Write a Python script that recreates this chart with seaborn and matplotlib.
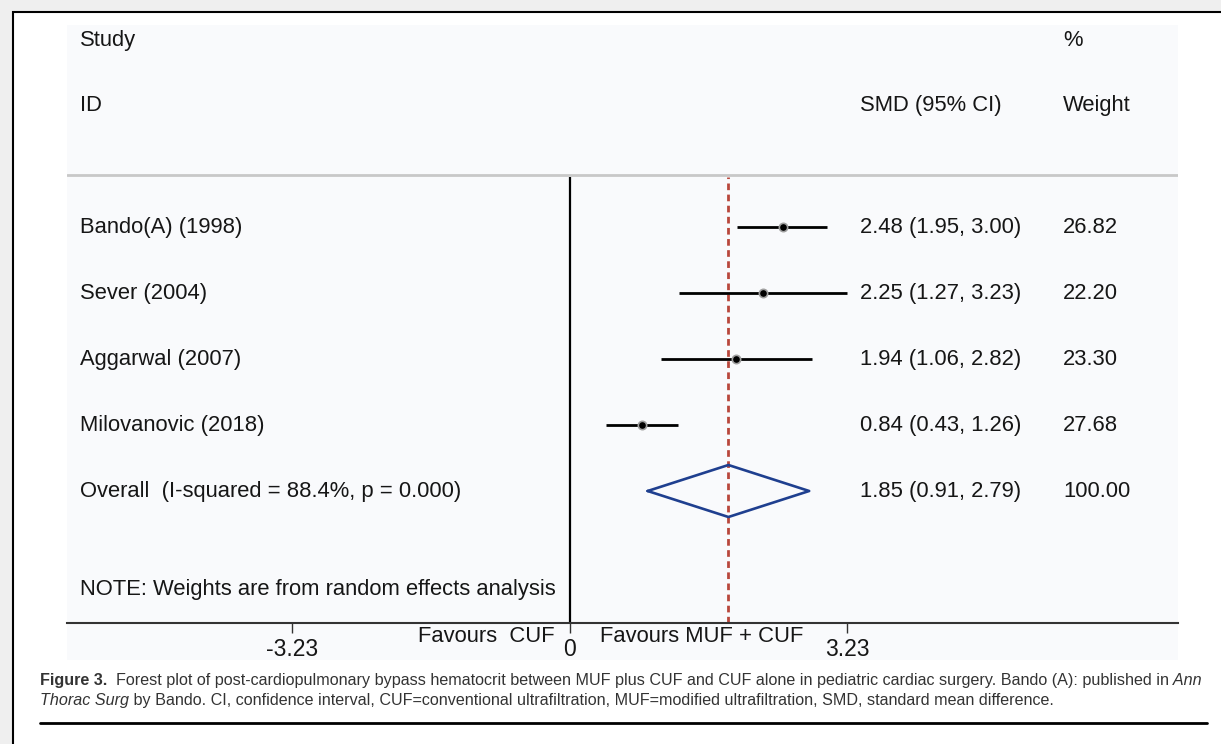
import numpy as np
import pandas as pd
import matplotlib
matplotlib.use("Agg")
import matplotlib.pyplot as plt
import matplotlib.transforms as mtransforms
from matplotlib.patches import Rectangle
import seaborn as sns

# ---- data -------------------------------------------------------------
studies = ["Bando(A) (1998)", "Sever (2004)", "Aggarwal (2007)", "Milovanovic (2018)"]
smd = [2.48, 2.25, 1.94, 0.84]
ci_low = [1.95, 1.27, 1.06, 0.43]
ci_high = [3.00, 3.23, 2.82, 1.26]
weights = [26.82, 22.20, 23.30, 27.68]

overall_smd = 1.85
overall_low = 0.91
overall_high = 2.79
overall_weight = 100.00
i_squared = 88.4
p_value = 0.000

xticks = [-3.23, 0, 3.23]

# ---- layout (pixels of the 1221x744 canvas) ---------------------------
W, H = 1221, 744
ZERO_PX, PX_PER_UNIT = 569.5, 85.9   # x scale of the forest panel
ROW_PX = 66.0                        # row spacing
AX_L, AX_R, AX_T, AX_B = 67, 1178, 25, 623

sns.set_theme(style="white")
plt.rcParams["font.family"] = ["Liberation Sans", "DejaVu Sans"]
TXT = "#161616"
CAP_FAMILY = ["Liberation Sans Narrow", "Liberation Sans", "DejaVu Sans"]

fig = plt.figure(figsize=(W / 100, H / 100), dpi=100)
fig.patch.set_facecolor("#efefef")

# page frame and pale plot panel
fig.patches.append(Rectangle((13 / W, -0.1), 1.0, 1.1 - 12 / H, transform=fig.transFigure,
                             facecolor="white", edgecolor="black", lw=1.5, zorder=-3))
fig.patches.append(Rectangle((AX_L / W, 1 - 660 / H), (AX_R - AX_L) / W, (660 - AX_T) / H,
                             transform=fig.transFigure, facecolor="#f9fafc",
                             edgecolor="none", zorder=-2))

ax = fig.add_axes([AX_L / W, 1 - AX_B / H, (AX_R - AX_L) / W, (AX_B - AX_T) / H])
ax.set_facecolor("none")
ax.set_xlim((AX_L - ZERO_PX) / PX_PER_UNIT, (AX_R - ZERO_PX) / PX_PER_UNIT)
ax.set_ylim(0, (AX_B - AX_T) / ROW_PX)

n = len(studies)
df = pd.DataFrame({
    "study": studies, "smd": smd, "low": ci_low, "high": ci_high, "weight": weights,
    "row": np.arange(n + 2, 2, -1),
})
overall_row = 2
header_line = (AX_B - 175) / ROW_PX
line_top = (AX_B - 177) / ROW_PX

# reference lines
ax.axhline(header_line, color="#c8c8c8", lw=2)
ax.vlines(0, 0, line_top, color="black", lw=1.6)
ax.vlines(overall_smd, 0, line_top, color="#b8473c", lw=2, linestyles=(0, (2.4, 1.6)))

# study CIs and point estimates
ax.hlines(df["row"], df["low"], df["high"], color="black", lw=2, zorder=2)
sns.scatterplot(data=df, x="smd", y="row", marker="o", s=36, color="black",
                edgecolor="#a0a0a0", linewidth=1.2, ax=ax, zorder=3, legend=False)

# pooled diamond
dh = 26 / ROW_PX
ax.plot([overall_low, overall_smd, overall_high, overall_smd, overall_low],
        [overall_row, overall_row + dh, overall_row, overall_row - dh, overall_row],
        color="#1f3f8f", lw=1.9, zorder=3)

# axes styling
for side in ["left", "top", "right"]:
    ax.spines[side].set_visible(False)
ax.spines["bottom"].set_color("#333333")
ax.spines["bottom"].set_linewidth(1.5)
ax.set_yticks([])
ax.set_xticks(xticks, labels=["0" if t == 0 else f"{t:.2f}" for t in xticks])
ax.tick_params(axis="x", bottom=True, direction="out", length=7.5, width=1,
               color="#333333", pad=3, labelsize=16.5, labelcolor=TXT)
ax.set_xlabel("")
ax.set_ylabel("")

# table text
tr = mtransforms.blended_transform_factory(fig.transFigure, ax.transData)
col_study, col_smd, col_w = 80 / W, 860 / W, 1063 / W
fs = 15.8
ax.text(col_study, (AX_B - 40) / ROW_PX, "Study", transform=tr, va="center", fontsize=fs, color=TXT)
ax.text(col_study, (AX_B - 105) / ROW_PX, "ID", transform=tr, va="center", fontsize=fs, color=TXT)
ax.text(col_smd, (AX_B - 105) / ROW_PX, "SMD (95% CI)", transform=tr, va="center", fontsize=fs, color=TXT)
ax.text(col_w, (AX_B - 40) / ROW_PX, "%", transform=tr, va="center", fontsize=fs, color=TXT)
ax.text(col_w, (AX_B - 105) / ROW_PX, "Weight", transform=tr, va="center", fontsize=fs, color=TXT)

for _, r in df.iterrows():
    ax.text(col_study, r["row"], r["study"], transform=tr, va="center", fontsize=fs, color=TXT)
    ax.text(col_smd, r["row"], f"{r['smd']:.2f} ({r['low']:.2f}, {r['high']:.2f})",
            transform=tr, va="center", fontsize=fs, color=TXT)
    ax.text(col_w, r["row"], f"{r['weight']:.2f}", transform=tr, va="center", fontsize=fs, color=TXT)

ax.text(col_study, overall_row, f"Overall  (I-squared = {i_squared:.1f}%, p = {p_value:.3f})",
        transform=tr, va="center", fontsize=fs, color=TXT)
ax.text(col_smd, overall_row, f"{overall_smd:.2f} ({overall_low:.2f}, {overall_high:.2f})",
        transform=tr, va="center", fontsize=fs, color=TXT)
ax.text(col_w, overall_row, f"{overall_weight:.2f}", transform=tr, va="center", fontsize=fs, color=TXT)
ax.text(col_study, (AX_B - 590) / ROW_PX, "NOTE: Weights are from random effects analysis",
        transform=tr, va="center", fontsize=fs, color=TXT)

fig.text(555 / W, 1 - 637 / H, "Favours  CUF", ha="right", va="center", fontsize=fs, color=TXT)
fig.text(600 / W, 1 - 637 / H, "Favours MUF + CUF", ha="left", va="center", fontsize=fs, color=TXT)

# ---- caption ----------------------------------------------------------
renderer = fig.canvas.get_renderer()


def draw_pieces(x_px, y_px, pieces, size):
    x = x_px
    for text, weight, style in pieces:
        t = fig.text(x / W, 1 - y_px / H, text, fontsize=size, fontweight=weight,
                     fontstyle=style, family=CAP_FAMILY, color="#333333", va="baseline")
        x += t.get_window_extent(renderer).width
    return x


line1 = [("Figure 3.", "bold", "normal"),
         ("  Forest plot of post-cardiopulmonary bypass hematocrit between MUF plus CUF and CUF alone"
          " in pediatric cardiac surgery. Bando (A): published in", "normal", "normal"),
         (" Ann", "normal", "italic")]
line2 = [("Thorac Surg", "normal", "italic"),
         (" by Bando. CI, confidence interval, CUF=conventional ultrafiltration, MUF=modified"
          " ultrafiltration, SMD, standard mean difference.", "normal", "normal")]

# fit line 1 to the column width
probe = 12
probe_texts = []
xp = 0
for text, weight, style in line1:
    t = fig.text(0, 0, text, fontsize=probe, fontweight=weight, fontstyle=style, family=CAP_FAMILY)
    xp += t.get_window_extent(renderer).width
    probe_texts.append(t)
for t in probe_texts:
    t.remove()
cap_size = probe * (1202 - 40) / xp

draw_pieces(40, 685, line1, cap_size)
draw_pieces(40, 705, line2, cap_size)
fig.add_artist(plt.Line2D([40 / W, 1207 / W], [1 - 723 / H, 1 - 723 / H], transform=fig.transFigure,
                          color="black", lw=2))

fig.savefig("out.png", dpi=100)
